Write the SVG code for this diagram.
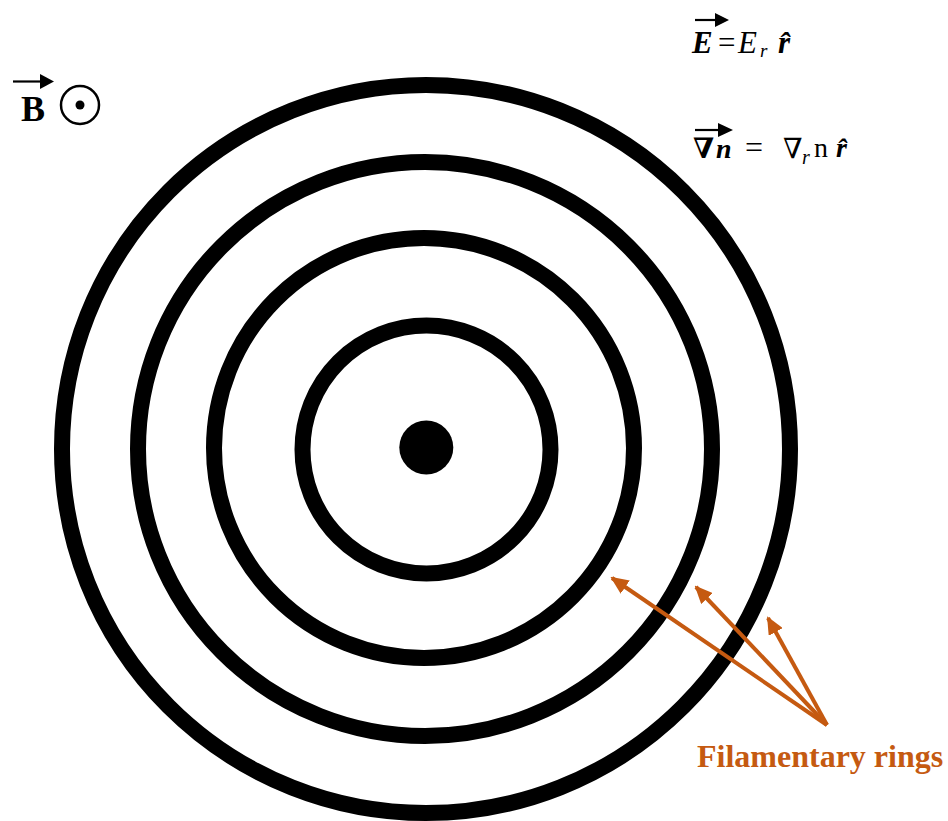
<svg xmlns="http://www.w3.org/2000/svg" width="948" height="821" viewBox="0 0 948 821">
<style>
.ring{fill:none;stroke:#000;stroke-width:16}
.ser{font-family:"Liberation Serif","DejaVu Serif",serif;fill:#000}
.bi{font-weight:bold;font-style:italic}
.it{font-style:italic}
.vec{stroke:#000;stroke-width:2.2}
.lead{stroke:#C55A11;stroke-width:4;fill:none;marker-end:url(#ah)}
.lbl{font-family:"Liberation Serif",serif;font-weight:bold;font-size:32px;fill:#C55A11}
</style>
<defs>
<marker id="ah" markerUnits="userSpaceOnUse" viewBox="0 0 18 16" refX="16" refY="8" markerWidth="18" markerHeight="16" orient="auto">
<path d="M0,0 L18,8 L0,16 Z" fill="#C55A11"/>
</marker>
</defs>
<rect width="948" height="821" fill="#fff"/>
<g id="rings">
<circle class="ring" cx="426" cy="449" r="364"/>
<circle class="ring" cx="425" cy="449" r="287"/>
<circle class="ring" cx="424" cy="448" r="210"/>
<circle class="ring" cx="426.5" cy="449.5" r="124"/>
<circle cx="426.3" cy="447.5" r="27" fill="#000"/>
</g>
<g id="bfield">
<line class="vec" x1="13" y1="81.5" x2="42" y2="81.5"/>
<polygon points="40,74 54,81.5 40,89" fill="#000"/>
<text class="ser" x="21" y="121" font-size="36" font-weight="bold">B</text>
<circle cx="80" cy="105" r="19" fill="none" stroke="#000" stroke-width="2.5"/>
<circle cx="80" cy="105" r="4.5" fill="#000"/>
</g>
<g id="efield">
<line class="vec" x1="695" y1="20" x2="717" y2="20"/>
<polygon points="715,13 729,20 715,27" fill="#000"/>
<text class="ser" y="53" font-size="31"><tspan class="bi" x="692">E</tspan><tspan x="718" font-size="31">=</tspan><tspan class="it" x="738">E</tspan><tspan class="it" x="760" y="57" font-size="19">r</tspan><tspan class="bi" x="778" y="53">r̂</tspan></text>
</g>
<g id="gradn">
<line class="vec" x1="695" y1="130" x2="720" y2="130"/>
<polygon points="718,123 733,130 718,137" fill="#000"/>
<text class="ser" y="158" font-size="28"><tspan font-weight="bold" x="693">∇</tspan><tspan class="bi" x="716">n</tspan><tspan x="745" font-size="32">=</tspan><tspan x="783">∇</tspan><tspan class="it" x="802" y="164" font-size="20">r</tspan><tspan x="814" y="157">n</tspan><tspan class="bi" x="836" y="157">r̂</tspan></text>
</g>
<g id="connectors">
<line class="lead" x1="827" y1="725" x2="612" y2="578"/>
<line class="lead" x1="827" y1="725" x2="696" y2="587"/>
<line class="lead" x1="827" y1="725" x2="768" y2="618"/>
</g>
<g id="label">
<text class="lbl" x="697" y="767">Filamentary rings</text>
</g>
</svg>
